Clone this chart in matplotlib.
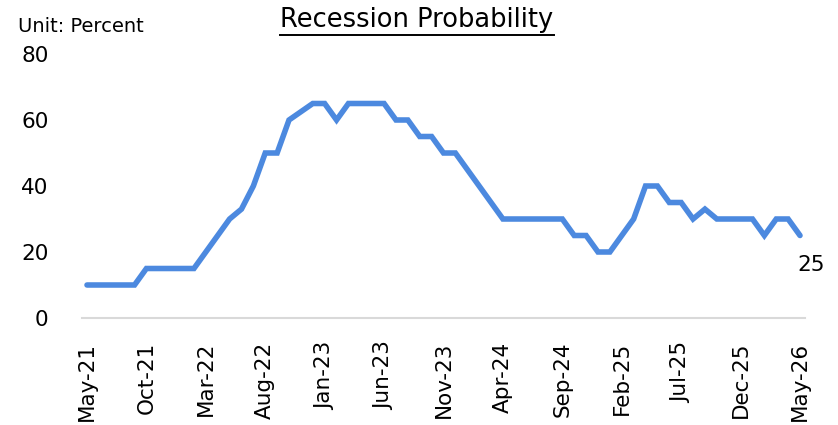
import matplotlib
matplotlib.use("Agg")
import matplotlib.pyplot as plt
from matplotlib.lines import Line2D

# Datos mensuales, May-21 a May-26
meses = ["May-21", "Jun-21", "Jul-21", "Aug-21", "Sep-21", "Oct-21", "Nov-21", "Dec-21",
         "Jan-22", "Feb-22", "Mar-22", "Apr-22", "May-22", "Jun-22", "Jul-22", "Aug-22",
         "Sep-22", "Oct-22", "Nov-22", "Dec-22", "Jan-23", "Feb-23", "Mar-23", "Apr-23",
         "May-23", "Jun-23", "Jul-23", "Aug-23", "Sep-23", "Oct-23", "Nov-23", "Dec-23",
         "Jan-24", "Feb-24", "Mar-24", "Apr-24", "May-24", "Jun-24", "Jul-24", "Aug-24",
         "Sep-24", "Oct-24", "Nov-24", "Dec-24", "Jan-25", "Feb-25", "Mar-25", "Apr-25",
         "May-25", "Jun-25", "Jul-25", "Aug-25", "Sep-25", "Oct-25", "Nov-25", "Dec-25",
         "Jan-26", "Feb-26", "Mar-26", "Apr-26", "May-26"]
probabilidad = [10, 10, 10, 10, 10, 15, 15, 15, 15, 15, 20, 25, 30, 33, 40, 50,
                50, 60, 62.5, 65, 65, 60, 65, 65, 65, 65, 60, 60, 55, 55, 50, 50,
                45, 40, 35, 30, 30, 30, 30, 30, 30, 25, 25, 20, 20, 25, 30, 40,
                40, 35, 35, 30, 33, 30, 30, 30, 30, 25, 30, 30, 25]

azul = "#4C89DF"
x = list(range(len(meses)))

fig = plt.figure(figsize=(8.38, 4.25), dpi=100)
ax = fig.add_axes([82 / 838, (425 - 318) / 425, 723 / 838, 264 / 425])

ax.plot(x, probabilidad, color=azul, linewidth=4, solid_joinstyle="miter",
        solid_capstyle="round", clip_on=False)

ax.set_xlim(-0.42, 60.42)
ax.set_ylim(0, 80)
ax.set_yticks([0, 20, 40, 60, 80])
ax.set_xticks(x[::5])
ax.set_xticklabels(meses[::5], rotation=90)

for s in ["top", "right", "left"]:
    ax.spines[s].set_visible(False)
ax.spines["bottom"].set_color("#D9D9D9")
ax.spines["bottom"].set_linewidth(1.5)
ax.tick_params(axis="y", length=0, pad=24, labelsize=15.5)
ax.tick_params(axis="x", length=0, pad=17, labelsize=15.5)

# Etiqueta del último valor
ax.annotate(f"{probabilidad[-1]:g}", (x[-1], probabilidad[-1]), xytext=(8, -21),
            textcoords="offset points", ha="center", va="center", fontsize=15.5)

fig.text(18 / 838, 1 - 27 / 425, "Unit: Percent", fontsize=14, va="center", ha="left")
titulo = fig.text(417 / 838, 1 - 20 / 425, "Recession Probability", fontsize=18.5,
                  ha="center", va="center")

# Subrayado del título
fig.canvas.draw()
bb = titulo.get_window_extent().transformed(fig.transFigure.inverted())
fig.add_artist(Line2D([bb.x0, bb.x1], [bb.y0 - 0.004, bb.y0 - 0.004],
                      transform=fig.transFigure, color="black", linewidth=1.4))

fig.savefig("out.png", dpi=100)
